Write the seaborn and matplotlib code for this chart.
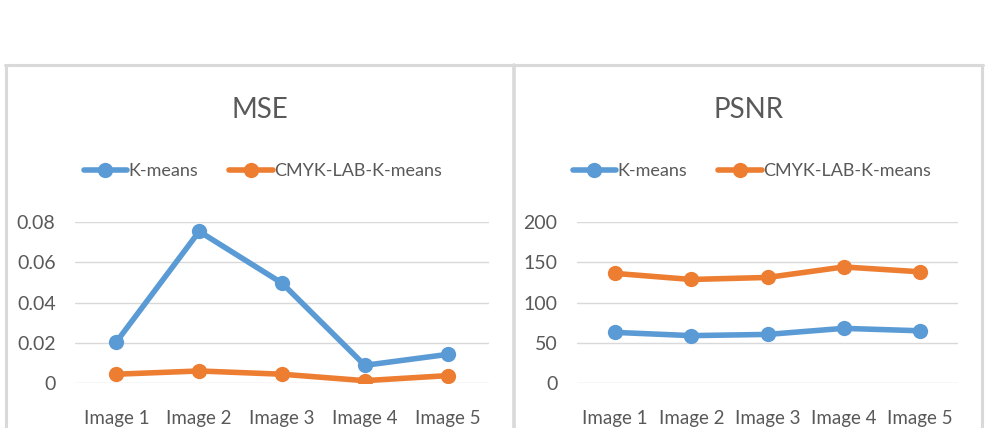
import matplotlib
matplotlib.use("Agg")
import matplotlib.pyplot as plt
import seaborn as sns
import pandas as pd
from matplotlib.lines import Line2D

categories = ["Image 1", "Image 2", "Image 3", "Image 4", "Image 5"]
series_names = ["K-means", "CMYK-LAB-K-means"]
mse_kmeans = [0.0205, 0.0752, 0.0496, 0.0089, 0.0143]
mse_cmyk = [0.0045, 0.0061, 0.0045, 0.0013, 0.0038]
psnr_kmeans = [63, 59, 60.5, 68, 65]
psnr_cmyk = [136, 128.5, 131, 144, 138]
mse_ticks = [0, 0.02, 0.04, 0.06, 0.08]
mse_ticklabels = ["0", "0.02", "0.04", "0.06", "0.08"]
psnr_ticks = [0, 50, 100, 150, 200]
psnr_ticklabels = ["0", "50", "100", "150", "200"]

colors = ["#5B9BD5", "#ED7D31"]
txt = "#595959"
grid = "#D9D9D9"

sns.set_theme(style="white")
plt.rcParams["font.family"] = ["Lato", "DejaVu Sans"]

W, H = 993, 428
fig = plt.figure(figsize=(W / 100, H / 100), dpi=100)


def fx(px):
    return px / W


def fy(py):
    return 1 - py / H


def make_df(a, b):
    return pd.DataFrame({
        "cat": categories * 2,
        "val": list(a) + list(b),
        "series": [series_names[0]] * 5 + [series_names[1]] * 5,
    })


panels = [
    dict(x0=75, x1=489, data=make_df(mse_kmeans, mse_cmyk), ticks=mse_ticks,
         labels=mse_ticklabels, title="MSE", pcx=260),
    dict(x0=577, x1=958, data=make_df(psnr_kmeans, psnr_cmyk), ticks=psnr_ticks,
         labels=psnr_ticklabels, title="PSNR", pcx=749),
]
ytop, ybot = 221.7, 383.3
LW, MS = 4.0, 11

for p in panels:
    ax = fig.add_axes([fx(p["x0"]), fy(ybot), fx(p["x1"] - p["x0"]), (ybot - ytop) / H])
    sns.lineplot(data=p["data"], x="cat", y="val", hue="series", palette=colors,
                 marker="o", markersize=MS, markeredgewidth=0, linewidth=LW,
                 sort=False, ax=ax, legend=False)
    ax.set_xlim(-0.5, 4.5)
    ax.set_ylim(p["ticks"][0], p["ticks"][-1])
    ax.set_yticks(p["ticks"])
    ax.set_yticklabels(p["labels"])
    ax.set_xlabel("")
    ax.set_ylabel("")
    for s in ax.spines.values():
        s.set_visible(False)
    ax.grid(axis="y", color=grid, linewidth=1.0)
    ax.grid(axis="x", visible=False)
    ax.set_axisbelow(True)
    ax.tick_params(axis="both", colors=txt, labelsize=14, length=0)
    ax.tick_params(axis="x", labelsize=13.5)
    ax.tick_params(axis="y", pad=14)
    ax.tick_params(axis="x", pad=19)
    for lbl in ax.get_xticklabels() + ax.get_yticklabels():
        lbl.set_color(txt)
    ax.patch.set_alpha(0)
    fig.text(fx(p["pcx"]), fy(110), p["title"], ha="center", va="center",
             fontsize=20, color=txt)
    handles = [Line2D([0], [0], color=c, lw=LW, marker="o", markersize=MS,
                      markeredgewidth=0) for c in colors]
    fig.legend(handles, series_names, loc="center",
               bbox_to_anchor=(fx(p["pcx"] + 3), fy(171)), ncol=2,
               frameon=False, fontsize=13, handlelength=2.4,
               handletextpad=0.1, columnspacing=1.7, labelcolor=txt)

# panel borders
bc = "#D9D9D9"
fig.add_artist(Line2D([fx(5), fx(983)], [fy(65), fy(65)], color=bc, lw=2.2))
for xx in [6, 514, 982]:
    fig.add_artist(Line2D([fx(xx), fx(xx)], [fy(65), fy(430)], color=bc,
                          lw=2.6 if xx == 514 else 2.2))

fig.savefig("out.png", dpi=100)
